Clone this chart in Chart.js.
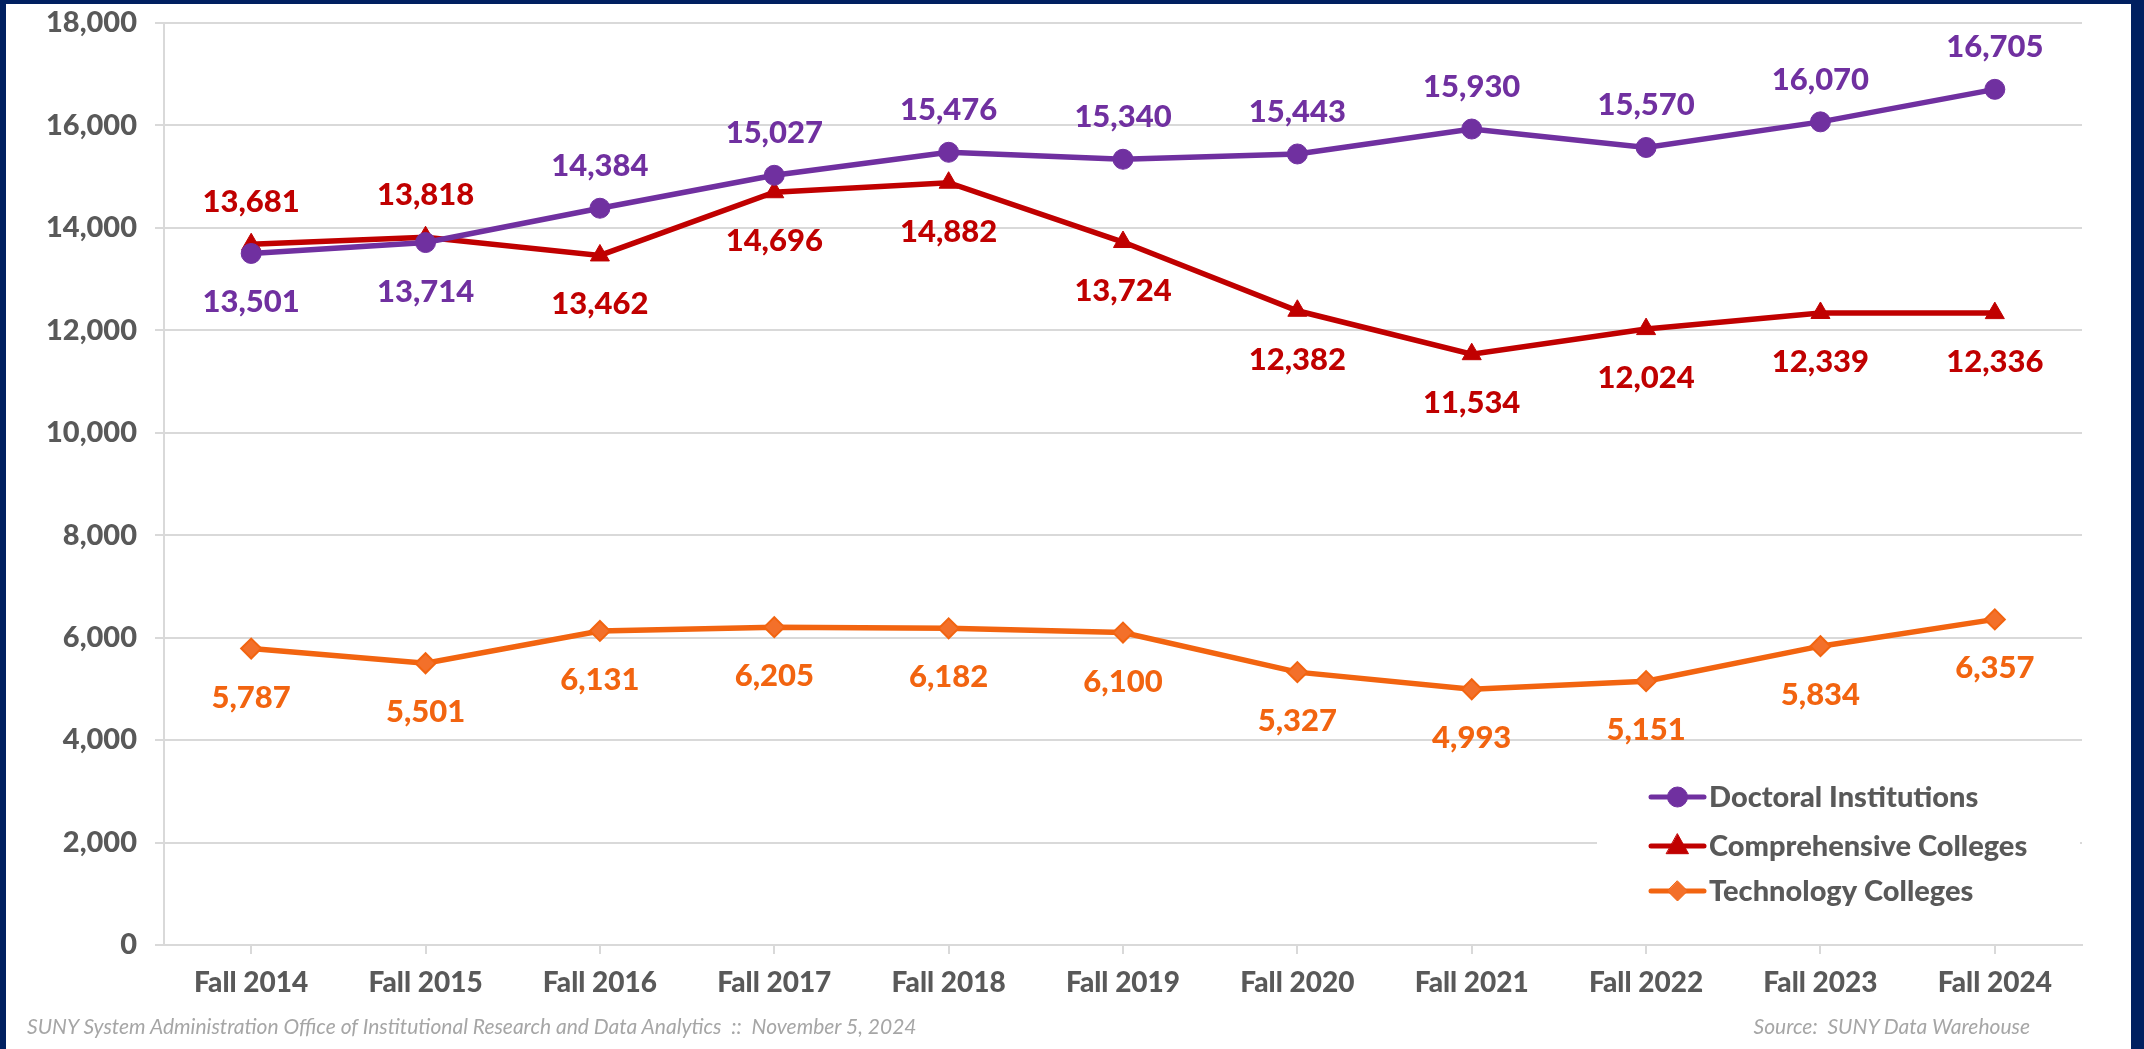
<!DOCTYPE html>
<html>
<head>
<meta charset="utf-8">
<script src="https://cdn.jsdelivr.net/npm/chart.js@4.4.1/dist/chart.umd.min.js"></script>
<style>
  html, body { margin: 0; padding: 0; background: #ffffff; }
  #wrap { position: relative; width: 2144px; height: 1049px; overflow: hidden; background: #ffffff; }
  #bl { position: absolute; left: 0; top: 0; width: 6px; height: 1049px; background: #002060; }
  #bt { position: absolute; left: 0; top: 0; width: 2144px; height: 4px; background: #002060; }
  #br { position: absolute; left: 2131px; top: 0; width: 13px; height: 1049px; background: #002060; }
  canvas { position: absolute; left: 0; top: 0; }
  .foot { position: absolute; top: 1013px; font-family: Lato, "Liberation Sans", sans-serif; font-style: italic; font-size: 21px; color: #A6A6A6; white-space: pre; }
</style>
</head>
<body>
<div id="wrap">
  <canvas id="c" width="2144" height="1049"></canvas>
  <div id="bl"></div><div id="bt"></div><div id="br"></div>
  <div class="foot" style="left:27px;">SUNY System Administration Office of Institutional Research and Data Analytics  ::  November 5, 2024</div>
  <div class="foot" style="right:114px;">Source:  SUNY Data Warehouse</div>
</div>
<script>
const categories = ["Fall 2014","Fall 2015","Fall 2016","Fall 2017","Fall 2018","Fall 2019","Fall 2020","Fall 2021","Fall 2022","Fall 2023","Fall 2024"];
const doctoral = [13501, 13714, 14384, 15027, 15476, 15340, 15443, 15930, 15570, 16070, 16705];
const comprehensive = [13681, 13818, 13462, 14696, 14882, 13724, 12382, 11534, 12024, 12339, 12336];
const technology = [5787, 5501, 6131, 6205, 6182, 6100, 5327, 4993, 5151, 5834, 6357];
const seriesNames = ["Doctoral Institutions", "Comprehensive Colleges", "Technology Colleges"];
// label placement: 1 = above, -1 = below
const doctoralLabelPos = [-1, -1, 1, 1, 1, 1, 1, 1, 1, 1, 1];
const comprehensiveLabelPos = [1, 1, -1, -1, -1, -1, -1, -1, -1, -1, -1];
const technologyLabelPos = [-1, -1, -1, -1, -1, -1, -1, -1, -1, -1, -1];

const PURPLE = '#7030A0', RED = '#C00000', ORANGE = '#F26410';
const FONT = 'Lato, "Liberation Sans", sans-serif';

const labelPlugin = {
  id: 'valueLabels',
  afterDatasetsDraw(chart) {
    const ctx = chart.ctx;
    ctx.save();
    ctx.font = '900 31px ' + FONT;
    ctx.textAlign = 'center';
    ctx.textBaseline = 'middle';
    chart.data.datasets.forEach((ds, i) => {
      const meta = chart.getDatasetMeta(i);
      ctx.fillStyle = ds.borderColor;
      meta.data.forEach((pt, j) => {
        const pos = ds.labelPos[j];
        const y = pos > 0 ? pt.y - 42 : pt.y + 49;
        ctx.fillText(ds.data[j].toLocaleString('en-US'), pt.x, y);
      });
    });
    ctx.restore();
  }
};

const legendPlugin = {
  id: 'insideLegend',
  afterDraw(chart) {
    const ctx = chart.ctx;
    const area = chart.chartArea;
    ctx.save();
    const bx = 1597, by = 765, bw = area.right - 1597 - 2, bh = 160;
    ctx.fillStyle = '#ffffff';
    ctx.fillRect(bx, by, bw, bh);
    const rows = [797, 846, 891];
    const x0 = 1651, x1 = 1704;
    ctx.font = '900 29px ' + FONT;
    ctx.textBaseline = 'middle';
    ctx.textAlign = 'left';
    chart.data.datasets.forEach((ds, i) => {
      const y = rows[i];
      ctx.strokeStyle = ds.borderColor;
      ctx.lineWidth = 5;
      ctx.lineCap = 'round';
      ctx.beginPath(); ctx.moveTo(x0, y); ctx.lineTo(x1, y); ctx.stroke();
      const cx = (x0 + x1) / 2;
      ctx.fillStyle = ds.pointBackgroundColor;
      ctx.strokeStyle = ds.borderColor;
      ctx.lineWidth = 1;
      ctx.beginPath();
      const r = ds.pointRadius;
      if (ds.pointStyle === 'circle') {
        ctx.arc(cx, y, r, 0, Math.PI * 2);
      } else if (ds.pointStyle === 'triangle') {
        ctx.moveTo(cx, y - r * 1.1); ctx.lineTo(cx + r, y + r * 0.7); ctx.lineTo(cx - r, y + r * 0.7); ctx.closePath();
      } else {
        ctx.moveTo(cx, y - r); ctx.lineTo(cx + r, y); ctx.lineTo(cx, y + r); ctx.lineTo(cx - r, y); ctx.closePath();
      }
      ctx.fill(); ctx.stroke();
      ctx.fillStyle = '#595959';
      ctx.fillText(ds.label, x1 + 5, y + 1);
    });
    ctx.restore();
  }
};

new Chart(document.getElementById('c'), {
  type: 'line',
  data: {
    labels: categories,
    datasets: [
      { label: seriesNames[0], data: doctoral, labelPos: doctoralLabelPos,
        borderColor: PURPLE, backgroundColor: PURPLE, pointBackgroundColor: PURPLE, pointBorderColor: PURPLE,
        borderWidth: 5.5, pointStyle: 'circle', pointRadius: 10, pointBorderWidth: 1, tension: 0 },
      { label: seriesNames[1], data: comprehensive, labelPos: comprehensiveLabelPos,
        borderColor: RED, backgroundColor: RED, pointBackgroundColor: RED, pointBorderColor: RED,
        borderWidth: 5.5, pointStyle: 'triangle', pointRadius: 11, pointBorderWidth: 1, tension: 0 },
      { label: seriesNames[2], data: technology, labelPos: technologyLabelPos,
        borderColor: ORANGE, backgroundColor: ORANGE, pointBackgroundColor: '#F3702A', pointBorderColor: ORANGE,
        borderWidth: 5.5, pointStyle: 'rectRot', pointRadius: 10, pointBorderWidth: 2, tension: 0 }
    ]
  },
  options: {
    responsive: false,
    animation: false,
    devicePixelRatio: 1,
    layout: { padding: { left: 0, top: 23, right: 62, bottom: 0 } },
    plugins: { legend: { display: false }, tooltip: { enabled: false } },
    scales: {
      x: {
        offset: true,
        grid: { offset: false, drawOnChartArea: false, drawTicks: true, tickLength: 9, color: '#D9D9D9', lineWidth: 2 },
        border: { color: '#D9D9D9', width: 2 },
        ticks: { color: '#595959', font: { family: FONT, size: 28, weight: '900' }, padding: 12, maxRotation: 0, autoSkip: false },
        afterFit(scale) { scale.height = 104; scale.paddingLeft = 0; scale.paddingRight = 0; }
      },
      y: {
        min: 0, max: 18000,
        grid: { color: '#D9D9D9', lineWidth: 2, tickLength: 9 },
        border: { color: '#D9D9D9', width: 2 },
        ticks: { stepSize: 2000, color: '#595959', padding: 18, font: { family: FONT, size: 29, weight: '900' },
          callback: (v) => v.toLocaleString('en-US') },
        afterFit(scale) { scale.width = 164; scale.paddingTop = 0; scale.paddingBottom = 0; }
      }
    }
  },
  plugins: [labelPlugin, legendPlugin]
});
</script>
</body>
</html>
